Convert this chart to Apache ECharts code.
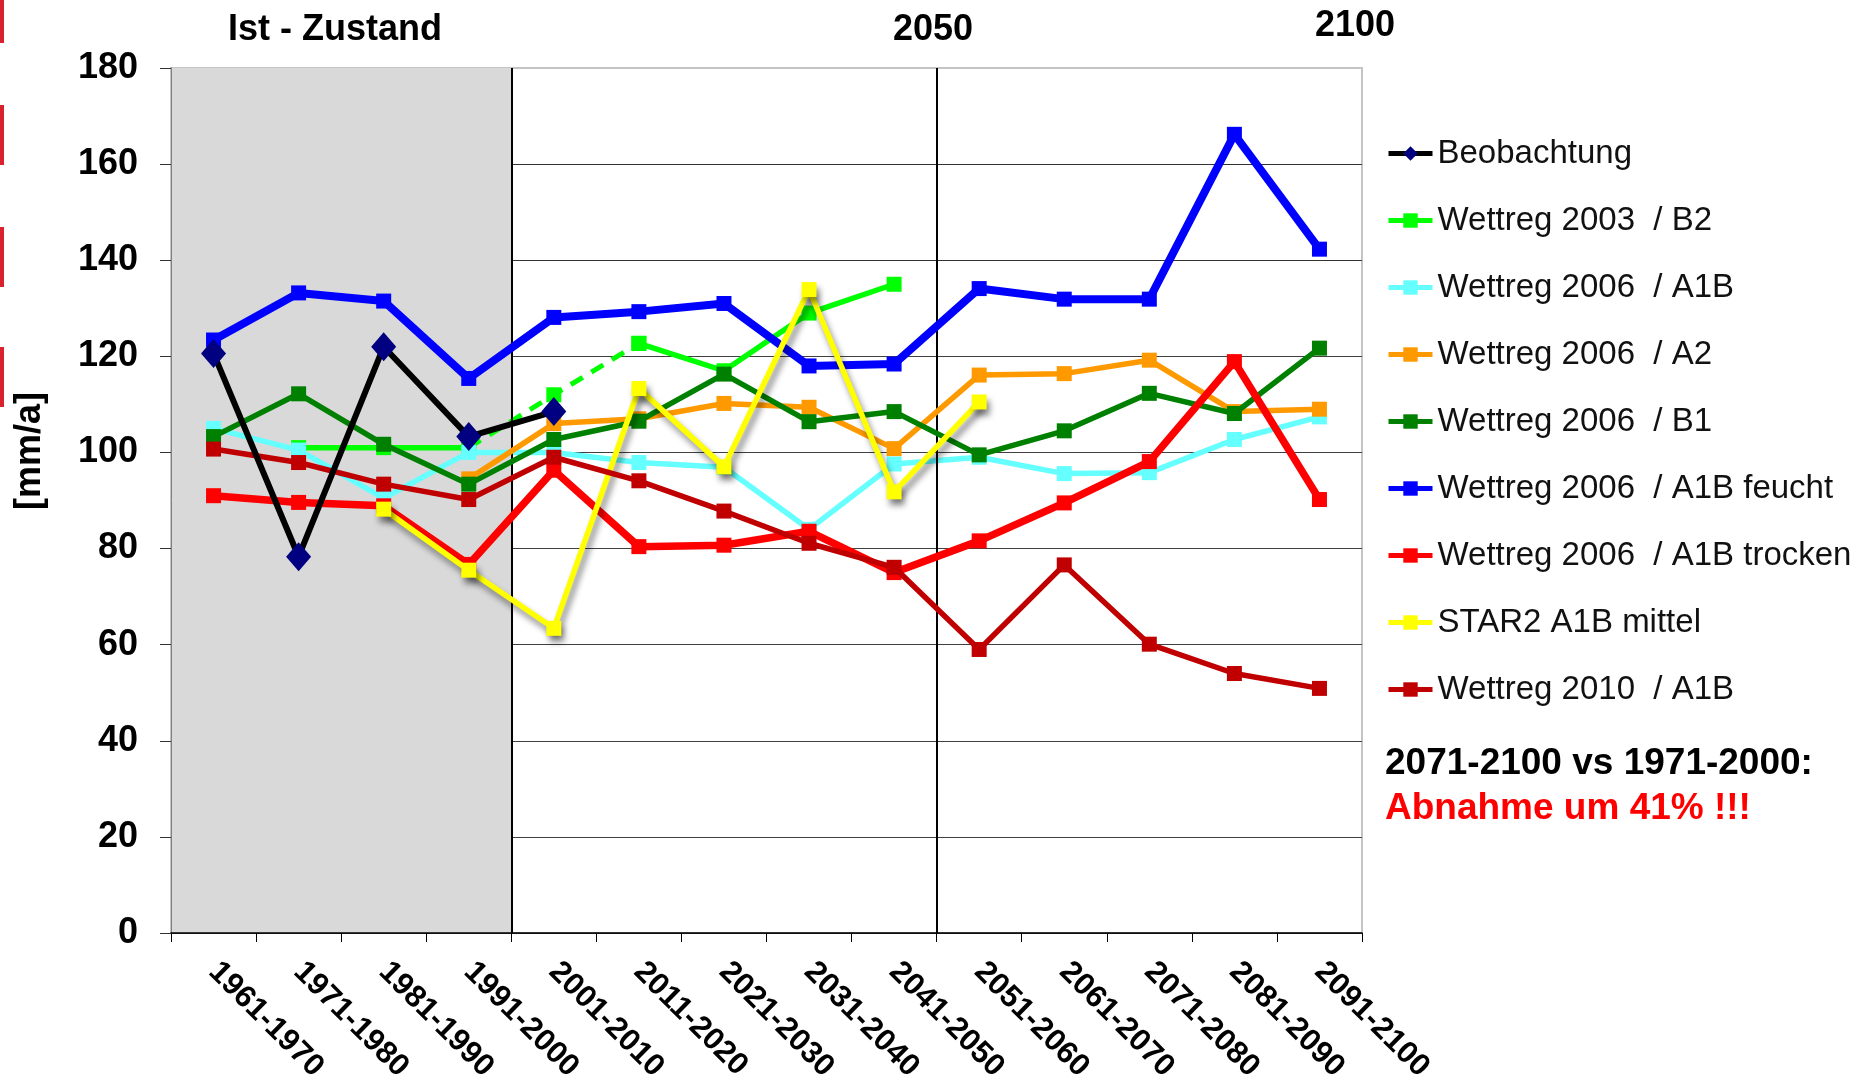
<!DOCTYPE html>
<html>
<head>
<meta charset="utf-8">
<title>Niederschlag Szenarien</title>
<script src="https://cdn.jsdelivr.net/npm/echarts@6/dist/echarts.min.js"></script>
<style>
  html, body { margin: 0; padding: 0; background: #fff; }
  #chart { width: 1855px; height: 1088px; }
</style>
</head>
<body>
<div id="chart"></div>
<script>
// Decades on the category axis
const categories = ['1961-1970', '1971-1980', '1981-1990', '1991-2000', '2001-2010', '2011-2020', '2021-2030',
  '2031-2040', '2041-2050', '2051-2060', '2061-2070', '2071-2080', '2081-2090', '2091-2100'];

// Values in mm/a per decade
const beobachtung       = [120.6, 78.3, 122.0, 103.3, 108.5, null, null, null, null, null, null, null, null, null];
const wettreg2003B2     = [null, 101, 101, 101, null, 122.7, 117, 129, 135, null, null, null, null, null];
const wettreg2003B2Gap  = [null, null, null, 101, 112, 122.7, null, null, null, null, null, null, null, null];
const wettreg2006A1B    = [105, 100.5, 90.5, 100, 100, 97.9, 96.9, 84, 97.6, 99, 95.6, 95.8, 102.7, 107.4];
const wettreg2006A2     = [null, null, null, 94.5, 106, 107, 110.2, 109.4, 100.8, 116.1, 116.4, 119.2, 108.5, 109];
const wettreg2006B1     = [103.3, 112.2, 101.7, 93.4, 102.7, 106.5, 116.3, 106.4, 108.5, 99.5, 104.5, 112.3, 108.1, 121.7];
const wettreg2006Feucht = [123.4, 133.2, 131.5, 115.4, 128.1, 129.3, 131.0, 118.0, 118.4, 134.1, 131.9, 131.9, 166.2, 142.3];
const wettreg2006Trocken= [91.0, 89.6, 88.9, 76.7, 96.3, 80.4, 80.7, 83.6, 75.0, 81.6, 89.5, 98.1, 118.9, 90.2];
const star2Mittel       = [null, null, 88.2, 75.5, 63.4, 113.3, 97, 133.9, 91.8, 110.5, null, null, null, null];
const wettreg2010A1B    = [100.7, 97.9, 93.4, 90.2, 99.0, 94.1, 87.8, 81.1, 76.1, 59.0, 76.6, 60.1, 54.0, 50.9];

// Series names as shown in the legend
const names = ['Beobachtung', 'Wettreg 2003  / B2', 'Wettreg 2006  / A1B', 'Wettreg 2006  / A2', 'Wettreg 2006  / B1',
  'Wettreg 2006  / A1B feucht', 'Wettreg 2006  / A1B trocken', 'STAR2 A1B mittel', 'Wettreg 2010  / A1B'];

// Period boundaries (in decade units along the axis)
const periodShade = [0, 4];
const periodMarks = [4, 9];

const FONT = "'Liberation Sans', Arial, sans-serif";

function line(name, data, color, width, opts) {
  opts = opts || {};
  return Object.assign({
    name: name,
    type: 'line',
    data: data,
    symbol: 'rect',
    symbolSize: 15,
    connectNulls: false,
    animation: false,
    z: 3,
    lineStyle: { color: color, width: width, join: 'round' },
    itemStyle: { color: color },
    emphasis: { disabled: true }
  }, opts);
}

const chart = echarts.init(document.getElementById('chart'), null, { renderer: 'canvas' });

const yellowShadow = { shadowColor: 'rgba(0,0,0,0.45)', shadowBlur: 6, shadowOffsetX: 3, shadowOffsetY: 6 };

chart.setOption({
  backgroundColor: '#ffffff',
  animation: false,
  textStyle: { fontFamily: FONT },
  grid: {
    left: 171, right: 493, top: 68, bottom: 155,
    show: true, borderColor: '#c4c4c4', borderWidth: 2, backgroundColor: 'transparent'
  },
  legend: {
    orient: 'vertical',
    left: 1386, top: 137,
    padding: 0,
    itemWidth: 44, itemHeight: 18, itemGap: 34,
    data: names,
    lineStyle: { width: 5 },
    textStyle: { fontFamily: FONT, fontSize: 33, lineHeight: 33, color: '#111' },
    selectedMode: false
  },
  xAxis: [{
    type: 'category',
    data: categories,
    boundaryGap: true,
    z: 1,
    axisLine: { lineStyle: { color: '#000', width: 1.5 } },
    axisTick: { show: true, length: 9, lineStyle: { color: '#000' } },
    axisLabel: {
      rotate: -45, margin: 34, interval: 0,
      fontFamily: FONT, fontSize: 31, fontWeight: 'bold', color: '#000'
    },
    splitLine: { show: false }
  }, {
    type: 'value', min: 0, max: 14, show: false
  }],
  yAxis: {
    type: 'value', min: 0, max: 180, interval: 20,
    z: 1,
    axisLine: { show: true, lineStyle: { color: '#808080', width: 1 } },
    axisTick: { show: true, length: 11, lineStyle: { color: '#333' } },
    axisLabel: { margin: 33, fontFamily: FONT, fontSize: 36, fontWeight: 'bold', color: '#000' },
    splitLine: {
      show: true,
      lineStyle: { width: 1.2, color: ['#404040', '#404040', '#404040', '#404040', '#404040', '#404040', '#404040', '#333', '#333', '#c4c4c4'] }
    }
  },
  series: [
    // observed period shading
    {
      type: 'line', xAxisIndex: 1, data: [], z: 0, silent: true, animation: false,
      markArea: {
        silent: true,
        itemStyle: { color: '#d9d9d9' },
        data: [[{ xAxis: periodShade[0] }, { xAxis: periodShade[1] }]]
      }
    },
    // period boundaries
    {
      type: 'line', xAxisIndex: 1, data: [], z: 1.5, silent: true, animation: false,
      markLine: {
        silent: true, symbol: 'none', label: { show: false },
        lineStyle: { color: '#000', width: 2, type: 'solid' },
        data: periodMarks.map(v => ({ xAxis: v }))
      }
    },
    line(names[1], wettreg2003B2, '#00ff00', 5.5, { z: 3 }),
    line(names[1], wettreg2003B2Gap, '#00ff00', 5.5, { z: 3, lineStyle: { color: '#00ff00', width: 5, type: [14, 10] } }),
    line(names[2], wettreg2006A1B, '#66ffff', 5.5, { z: 4 }),
    line(names[3], wettreg2006A2, '#ff9900', 5.5, { z: 5 }),
    line(names[4], wettreg2006B1, '#008000', 5.5, { z: 6 }),
    line(names[5], wettreg2006Feucht, '#0000ff', 8, { z: 7 }),
    line(names[6], wettreg2006Trocken, '#ff0000', 7.5, { z: 8 }),
    line(names[7], star2Mittel, '#ffff00', 5.5, {
      z: 9,
      lineStyle: Object.assign({ color: '#ffff00', width: 5.5 }, yellowShadow),
      itemStyle: Object.assign({ color: '#ffff00' }, yellowShadow)
    }),
    line(names[8], wettreg2010A1B, '#c00000', 5.5, { z: 10 }),
    line(names[0], beobachtung, '#000000', 6, {
      z: 11, symbol: 'diamond', symbolSize: [25, 29],
      itemStyle: { color: '#000080' }
    })
  ],
  graphic: [
    // red edge strips
    { type: 'rect', left: 0, top: 0, shape: { width: 4, height: 43 }, style: { fill: '#d8232f' }, silent: true },
    { type: 'rect', left: 0, top: 105, shape: { width: 4, height: 60 }, style: { fill: '#d8232f' }, silent: true },
    { type: 'rect', left: 0, top: 227, shape: { width: 4, height: 60 }, style: { fill: '#d8232f' }, silent: true },
    { type: 'rect', left: 0, top: 347, shape: { width: 4, height: 60 }, style: { fill: '#d8232f' }, silent: true },
    // period headings
    { type: 'text', x: 335, y: 30, style: { text: 'Ist - Zustand', font: "bold 36px " + FONT, fill: '#000', align: 'center', verticalAlign: 'middle' } },
    { type: 'text', x: 933, y: 30, style: { text: '2050', font: "bold 36px " + FONT, fill: '#000', align: 'center', verticalAlign: 'middle' } },
    { type: 'text', x: 1355, y: 26, style: { text: '2100', font: "bold 36px " + FONT, fill: '#000', align: 'center', verticalAlign: 'middle' } },
    // axis unit
    { type: 'text', x: 30, y: 451, rotation: Math.PI / 2, style: { text: '[mm/a]', font: "bold 36px " + FONT, fill: '#000', align: 'center', verticalAlign: 'middle' } },
    // summary
    { type: 'text', x: 1385, y: 764, style: { text: '2071-2100 vs 1971-2000:', font: "bold 37px " + FONT, fill: '#000', align: 'left', verticalAlign: 'middle' } },
    { type: 'text', x: 1385, y: 809, style: { text: 'Abnahme um 41% !!!', font: "bold 37px " + FONT, fill: '#ff0000', align: 'left', verticalAlign: 'middle' } }
  ]
});
</script>
</body>
</html>
